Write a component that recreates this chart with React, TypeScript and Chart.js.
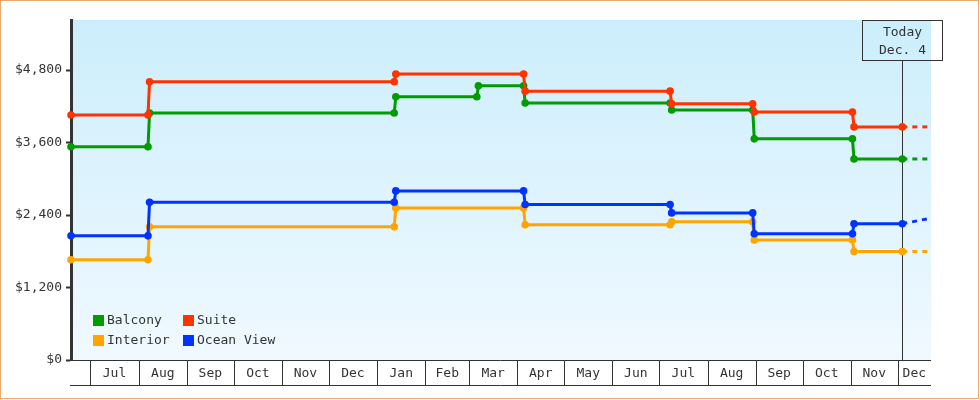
import React, { useEffect, useRef } from "react";
import { Chart, registerables } from "chart.js";

Chart.register(...registerables);

const FONT = '"DejaVu Sans Mono", monospace';
const TEXT = "#333333";

// ---- axis data ----
const monthLabels = ["Jul", "Aug", "Sep", "Oct", "Nov", "Dec", "Jan", "Feb", "Mar", "Apr", "May", "Jun", "Jul", "Aug", "Sep", "Oct", "Nov", "Dec"];
const monthStarts = [
  "2014-07-01", "2014-08-01", "2014-09-01", "2014-10-01", "2014-11-01", "2014-12-01",
  "2015-01-01", "2015-02-01", "2015-03-01", "2015-04-01", "2015-05-01", "2015-06-01",
  "2015-07-01", "2015-08-01", "2015-09-01", "2015-10-01", "2015-11-01", "2015-12-01",
];
const axisStart = "2014-06-18";
const axisEnd = "2015-12-22";
const yTickValues = [0, 1200, 2400, 3600, 4800];
const yMax = 5630;
const todayDate = "2015-12-04";
const todayText = ["Today", "Dec. 4"];

// ---- series data ----
const seriesNames = ["Balcony", "Suite", "Interior", "Ocean View"];
const seriesColors = ["#009c00", "#ff3300", "#ffa500", "#0033ff"];

const balconyEnds = ["2014-08-07", "2015-01-12", "2015-03-06", "2015-04-05", "2015-07-08", "2015-08-30", "2015-11-02"];
const balconyPrices = [3532, 4089, 4359, 4541, 4255, 4139, 3662, 3329];

const suiteEnds = ["2014-08-07", "2015-01-12", "2015-04-05", "2015-07-08", "2015-08-30", "2015-11-02"];
const suitePrices = [4056, 4607, 4734, 4452, 4243, 4106, 3860];

const interiorEnds = ["2014-08-07", "2015-01-12", "2015-04-05", "2015-07-08", "2015-08-30", "2015-11-02"];
const interiorPrices = [1660, 2205, 2519, 2240, 2288, 1988, 1797];

const oceanEnds = ["2014-08-07", "2015-01-12", "2015-04-05", "2015-07-08", "2015-08-30", "2015-11-02"];
const oceanPrices = [2056, 2612, 2800, 2574, 2436, 2091, 2255];

const forecastEnd = [3329, 3860, 1797, 2350];

// ---- helpers ----
const day = (s: string) => {
  const [y, m, d] = s.split("-").map(Number);
  return Date.UTC(y, m - 1, d) / 86400000;
};
const xMin = day(axisStart) + 0.6;
const xMax = day(axisEnd) + 0.4;
const today = day(todayDate);

function buildSteps(ends: string[], prices: number[]) {
  const pts: { x: number; y: number }[] = [];
  for (let i = 0; i < prices.length; i++) {
    const start = i === 0 ? xMin : day(ends[i - 1]) + 1;
    const end = i === prices.length - 1 ? today : day(ends[i]);
    pts.push({ x: start, y: prices[i] }, { x: end, y: prices[i] });
  }
  return pts;
}

const allEnds = [balconyEnds, suiteEnds, interiorEnds, oceanEnds];
const allPrices = [balconyPrices, suitePrices, interiorPrices, oceanPrices];
const drawOrder = [3, 1, 2, 0];

const boundaries = [...monthStarts.map(day), xMax];
const monthMids = monthLabels.map((_, i) => (boundaries[i] + boundaries[i + 1]) / 2);

const decoPlugin = {
  id: "deco",
  beforeDraw(chart: any) {
    const { ctx, chartArea: a } = chart;
    ctx.save();
    ctx.fillStyle = "#ffffff";
    ctx.fillRect(0, 0, chart.width, chart.height);
    const g = ctx.createLinearGradient(0, a.top, 0, a.bottom);
    g.addColorStop(0, "#cceefc");
    g.addColorStop(1, "#f0f9ff");
    ctx.fillStyle = g;
    ctx.fillRect(a.left, a.top, a.right - a.left, a.bottom - a.top);
    ctx.strokeStyle = "#e9aa6a";
    ctx.lineWidth = 1;
    ctx.strokeRect(0.5, 0.5, chart.width - 2, chart.height - 2);
    ctx.restore();
  },
  beforeDatasetsDraw(chart: any) {
    const { ctx, chartArea: a, scales } = chart;
    const xs = scales.x;
    ctx.save();
    ctx.strokeStyle = TEXT;
    ctx.lineWidth = 1;
    // x axis box
    const y0 = Math.round(a.bottom) + 0.5;
    const y1 = y0 + 25;
    ctx.beginPath();
    ctx.moveTo(a.left - 1, y0);
    ctx.lineTo(a.right, y0);
    ctx.moveTo(a.left - 1, y1);
    ctx.lineTo(a.right, y1);
    monthStarts.forEach((s) => {
      const px = Math.round(xs.getPixelForValue(day(s))) + 0.5;
      ctx.moveTo(px, y0);
      ctx.lineTo(px, y1);
    });
    ctx.stroke();
    // today marker
    const tx = Math.round(xs.getPixelForValue(today)) + 0.5;
    const bw = 80, bh = 40;
    const bt = Math.round(a.top) + 0.5;
    ctx.strokeRect(tx - bw / 2, bt, bw, bh);
    ctx.beginPath();
    ctx.moveTo(tx, bt + bh);
    ctx.lineTo(tx, a.bottom);
    ctx.stroke();
    ctx.fillStyle = TEXT;
    ctx.font = `13px ${FONT}`;
    ctx.textAlign = "center";
    ctx.textBaseline = "middle";
    ctx.fillText(todayText[0], tx, bt + 12);
    ctx.fillText(todayText[1], tx, bt + 30);
    ctx.restore();
  },
  afterDraw(chart: any) {
    const { ctx, chartArea: a } = chart;
    ctx.save();
    ctx.font = `13px ${FONT}`;
    ctx.textAlign = "left";
    ctx.textBaseline = "middle";
    const cols = [a.left + 22, a.left + 112];
    const rows = [a.bottom - 45, a.bottom - 25];
    seriesNames.forEach((name, i) => {
      const bx = cols[i % 2];
      const by = rows[Math.floor(i / 2)];
      ctx.fillStyle = seriesColors[i];
      ctx.fillRect(bx, by, 11, 11);
      ctx.fillStyle = TEXT;
      ctx.fillText(name, bx + 14, by + 6);
    });
    ctx.restore();
  },
};

export default function App() {
  const ref = useRef<HTMLCanvasElement | null>(null);
  useEffect(() => {
    if (!ref.current) return;
    const datasets: any[] = [];
    seriesNames.forEach((name, i) => {
      datasets.push({
        label: name,
        data: buildSteps(allEnds[i], allPrices[i]),
        borderColor: seriesColors[i],
        backgroundColor: seriesColors[i],
        borderWidth: 3,
        pointRadius: 3.8,
        pointHoverRadius: 3.8,
        pointBorderWidth: 0,
        pointBackgroundColor: seriesColors[i],
        fill: false,
        tension: 0,
        clip: false,
        order: drawOrder[i],
      });
    });
    seriesNames.forEach((name, i) => {
      const last = allPrices[i][allPrices[i].length - 1];
      datasets.push({
        label: name + " forecast",
        data: [{ x: today, y: last }, { x: xMax, y: forecastEnd[i] }],
        borderColor: seriesColors[i],
        borderWidth: 3,
        borderDash: [5, 5],
        pointRadius: 0,
        fill: false,
        clip: false,
        order: drawOrder[i] + 10,
      });
    });
    const chart = new Chart(ref.current, {
      type: "line",
      data: { datasets },
      plugins: [decoPlugin],
      options: {
        animation: false,
        responsive: false,
        devicePixelRatio: 1,
        layout: { padding: { top: 20, right: 49, bottom: 0, left: 0 } },
        plugins: { legend: { display: false }, tooltip: { enabled: false }, title: { display: false } },
        scales: {
          x: {
            type: "linear",
            min: xMin,
            max: xMax,
            afterBuildTicks: (s: any) => {
              s.ticks = monthMids.map((v) => ({ value: v }));
            },
            afterFit: (s: any) => {
              s.height = 40;
            },
            ticks: {
              autoSkip: false,
              maxRotation: 0,
              minRotation: 0,
              padding: 6,
              color: TEXT,
              font: { family: FONT, size: 13 },
              callback: (_v: any, i: number) => monthLabels[i],
            },
            grid: { display: false, drawTicks: false },
            border: { display: false },
          },
          y: {
            min: 0,
            max: yMax,
            afterBuildTicks: (s: any) => {
              s.ticks = yTickValues.map((v) => ({ value: v }));
            },
            afterFit: (s: any) => {
              s.width = 71;
            },
            ticks: {
              padding: 4,
              color: TEXT,
              font: { family: FONT, size: 13 },
              callback: (v: any) => "$" + Number(v).toLocaleString("en-US"),
            },
            grid: { drawOnChartArea: false, drawTicks: true, tickLength: 5, tickWidth: 2, tickColor: TEXT },
            border: { display: true, color: TEXT, width: 3 },
          },
        },
      } as any,
    });
    return () => chart.destroy();
  }, []);
  return (
    <div style={{ position: "absolute", left: 0, top: 0, width: 980, height: 400 }}>
      <canvas ref={ref} width={980} height={400} style={{ display: "block" }} />
    </div>
  );
}
